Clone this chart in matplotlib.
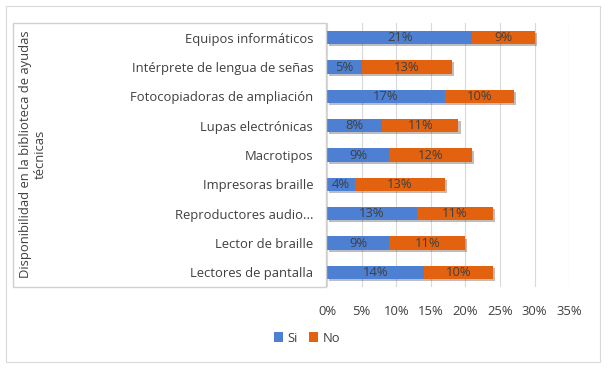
import matplotlib
matplotlib.use("Agg")
import matplotlib.pyplot as plt
from matplotlib.patches import Rectangle
import matplotlib.patheffects as pe
import numpy as np

categories = ["Equipos informáticos", "Intérprete de lengua de señas",
              "Fotocopiadoras de ampliación", "Lupas electrónicas", "Macrotipos",
              "Impresoras braille", "Reproductores audio...", "Lector de braille",
              "Lectores de pantalla"]
si = [21, 5, 17, 8, 9, 4, 13, 9, 14]
no = [9, 13, 10, 11, 12, 13, 11, 11, 10]
xticks = [0, 5, 10, 15, 20, 25, 30, 35]
series_names = ["Si", "No"]
ylabel = "Disponibilidad en la biblioteca de ayudas\ntécnicas"

plt.rcParams['font.family'] = ['Open Sans', 'DejaVu Sans']
blue = "#4D80D3"
orange = "#E2620F"
txt = "#404040"
fs = 9.4

fig = plt.figure(figsize=(6.08, 3.68), dpi=100)
ax = fig.add_axes([0.538, 0.22, 0.398, 0.7175])

y = np.arange(len(categories))
h = 0.45
shadow = [pe.SimplePatchShadow(offset=(1.5, -1.5), alpha=0.3), pe.Normal()]
b1 = ax.barh(y, si, height=h, color=blue, label=series_names[0], zorder=3, path_effects=shadow)
b2 = ax.barh(y, no, left=si, height=h, color=orange, label=series_names[1], zorder=3, path_effects=shadow)
for i in range(len(categories)):
    ax.text(si[i] / 2, y[i], f"{si[i]}%", ha="center", va="center", fontsize=fs, color=txt, zorder=5)
    ax.text(si[i] + no[i] / 2, y[i], f"{no[i]}%", ha="center", va="center", fontsize=fs, color=txt, zorder=5)

ax.set_ylim(len(categories) - 0.5, -0.5)
ax.set_xlim(0, 35)
ax.set_xticks(xticks)
ax.set_xticklabels([f"{t}%" for t in xticks], fontsize=fs, color=txt)
ax.set_yticks(y)
ax.set_yticklabels(categories, fontsize=fs, color=txt)
ax.tick_params(length=0, pad=10)
ax.tick_params(axis='x', pad=13)
ax.grid(axis='x', color="#D9D9D9", linewidth=0.8, zorder=0)
for s in ax.spines.values():
    s.set_visible(False)

# boxes
fig.patches.append(Rectangle((6/608, 1-362/368), 594/608, 356/368, transform=fig.transFigure,
                             fill=False, edgecolor="#D9D9D9", linewidth=0.8))
fig.patches.append(Rectangle((13/608, 1-287/368), 313/608, 264/368, transform=fig.transFigure,
                             fill=False, edgecolor="#D0D0D0", linewidth=1.0))

fig.text(33/608, 1-154/368, ylabel, rotation=90, ha="center", va="center",
         fontsize=fs, color=txt, linespacing=1.15, multialignment='center')

leg = fig.legend(handles=[b1, b2], labels=series_names, loc="center", bbox_to_anchor=(0.505, 1-338/368),
                 ncol=2, frameon=False, fontsize=fs, handlelength=0.7, handleheight=0.7,
                 handletextpad=0.3, columnspacing=0.9, labelcolor=txt)
for hnd in leg.legend_handles:
    hnd.set_path_effects([])

fig.savefig("out.png", dpi=100)
